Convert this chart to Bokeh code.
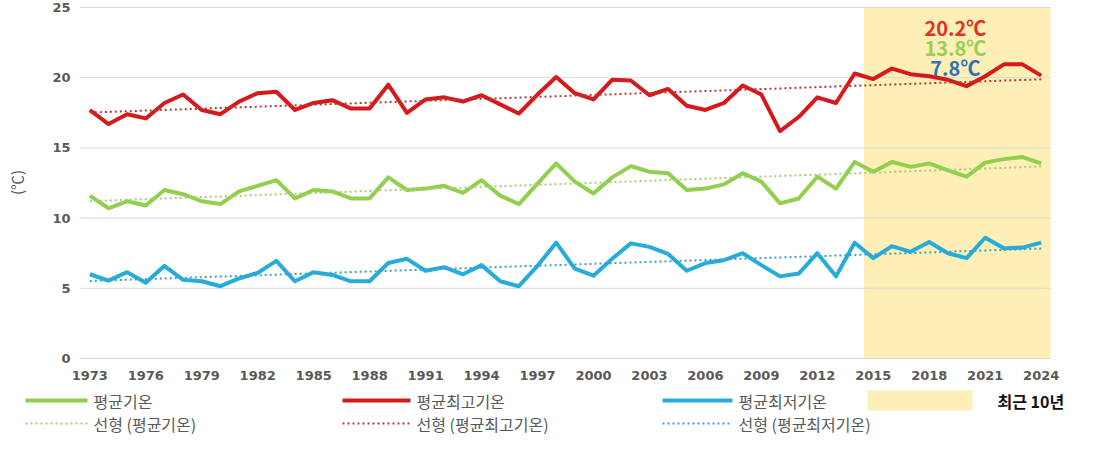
import numpy as np
from bokeh.plotting import figure
from bokeh.core.properties import value
from bokeh.embed import file_html
from bokeh.resources import INLINE

# ---------------- data ----------------
years = list(range(1973, 2025))
avg_temp = [11.6, 10.7, 11.2, 10.9, 12.0, 11.7, 11.2, 11.0, 11.9, 12.3,
            12.7, 11.4, 12.0, 11.9, 11.4, 11.4, 12.9, 12.0, 12.1, 12.3,
            11.8, 12.7, 11.6, 11.0, 12.45, 13.9, 12.6, 11.75, 12.9, 13.7,
            13.3, 13.2, 12.0, 12.1, 12.4, 13.2, 12.6, 11.05, 11.4, 12.95,
            12.1, 14.0, 13.3, 14.0, 13.65, 13.9, 13.4, 12.95, 13.95, 14.2,
            14.35, 13.9]
max_temp = [17.7, 16.7, 17.4, 17.1, 18.2, 18.8, 17.7, 17.4, 18.3, 18.9,
            19.0, 17.7, 18.2, 18.4, 17.8, 17.8, 19.5, 17.5, 18.45, 18.6,
            18.3, 18.75, 18.1, 17.45, 18.8, 20.05, 18.9, 18.45, 19.85, 19.8,
            18.75, 19.2, 18.0, 17.7, 18.2, 19.45, 18.8, 16.2, 17.2, 18.6,
            18.2, 20.3, 19.9, 20.65, 20.25, 20.1, 19.85, 19.4, 20.1, 20.95,
            20.95, 20.15]
min_temp = [6.0, 5.55, 6.15, 5.4, 6.6, 5.6, 5.5, 5.15, 5.7, 6.1,
            6.95, 5.5, 6.15, 5.95, 5.5, 5.5, 6.8, 7.1, 6.25, 6.5,
            6.0, 6.65, 5.5, 5.15, 6.6, 8.25, 6.4, 5.9, 7.1, 8.2,
            7.95, 7.45, 6.25, 6.8, 7.0, 7.5, 6.65, 5.85, 6.05, 7.5,
            5.85, 8.25, 7.15, 8.0, 7.6, 8.3, 7.5, 7.15, 8.6, 7.85,
            7.9, 8.25]
recent_years = [2015, 2024]
y_ticks = [0, 5, 10, 15, 20, 25]
x_ticks = list(range(1973, 2025, 3))

series_names = ["평균기온", "평균최고기온", "평균최저기온"]
trend_names = ["선형 (평균기온)", "선형 (평균최고기온)", "선형 (평균최저기온)"]
recent_name = "최근 10년"
y_label = "(℃)"

# ---------------- styles ----------------
c_avg, c_max, c_min = "#92cf4f", "#d61a1c", "#27acd9"
c_avg_t, c_max_t, c_min_t = "#a3cf78", "#b33a3a", "#3d9fc9"
c_box = "#fdefb5"
txt_col = "#595959"
tick_font = "DejaVu Sans"
kr_font = "Noto Sans CJK KR"

# ---------------- layout geometry (canvas pixels) ----------------
W, H = 1100, 435
PL, PR, PT, PB = 80, 1050, 7, 358          # plot area inside the canvas
x_lo, x_hi = years[0] - 0.5, years[-1] + 0.5
y_lo, y_hi = y_ticks[0], y_ticks[-1]
kx = (x_hi - x_lo) / (PR - PL)
ky = (y_hi - y_lo) / (PB - PT)
x_range = (x_lo - PL * kx, x_hi + (W - PR) * kx)
y_range = (y_lo - (H - PB) * ky, y_hi + PT * ky)

def fx(px):
    return x_range[0] + px * kx

def fy(py):
    return y_range[1] - py * ky

p = figure(width=W, height=H, output_backend="svg", toolbar_location=None,
           x_range=x_range, y_range=y_range, min_border=0,
           x_axis_type=None, y_axis_type=None)
p.outline_line_color = None
p.background_fill_color = "white"
p.border_fill_color = "white"
p.grid.visible = False

# recent 10-year box
p.quad(left=[recent_years[0] - 0.5], right=[recent_years[1] + 0.5],
       bottom=[y_lo], top=[y_hi], fill_color=c_box, line_color=None)

# horizontal gridlines
p.segment(x0=[x_lo] * len(y_ticks), x1=[x_hi] * len(y_ticks), y0=y_ticks, y1=y_ticks,
          line_color="#d9d9d9", line_width=1)

yrs = np.array(years, dtype=float)

def trend(vals):
    k, b = np.polyfit(yrs, np.array(vals), 1)
    return k * yrs + b

main_style = dict(line_width=4, line_join="round")
trend_style = dict(line_width=2, line_dash="2 3")
p.line(years, avg_temp, line_color=c_avg, **main_style)
p.line(years, max_temp, line_color=c_max, **main_style)
p.line(years, min_temp, line_color=c_min, **main_style)
p.line(years, trend(avg_temp), line_color=c_avg_t, **trend_style)
p.line(years, trend(max_temp), line_color=c_max_t, **trend_style)
p.line(years, trend(min_temp), line_color=c_min_t, **trend_style)

# tick labels
tick_txt = dict(text_font=value(tick_font), text_font_size=value("13px"),
                text_font_style="bold", text_color=txt_col, text_baseline="middle")
p.text(x=[fx(PL - 10)] * len(y_ticks), y=y_ticks, text=[str(t) for t in y_ticks],
       text_align="right", **tick_txt)
p.text(x=x_ticks, y=[fy(PB + 17)] * len(x_ticks), text=[str(t) for t in x_ticks],
       text_align="center", **tick_txt)
p.text(x=[fx(16)], y=[fy(182)], text=[y_label], angle=np.pi / 2,
       text_align="center", text_baseline="middle", text_font=value(kr_font),
       text_font_size=value("15px"), text_color=txt_col)

# recent-decade mean labels
lab_x = 2019.4
lab_vals, lab_cols = [], []
for vals, col in ((max_temp, "#e4301e"), (avg_temp, "#9bcd55"), (min_temp, "#2e72b4")):
    recent = [v for yv, v in zip(years, vals) if recent_years[0] <= yv <= recent_years[1]]
    lab_vals.append(f"{np.mean(recent):.1f}℃")
    lab_cols.append(col)
p.text(x=[lab_x] * 3, y=[fy(27), fy(46.5), fy(67)], text=lab_vals, text_color=lab_cols,
       text_align="center", text_baseline="alphabetic", text_font=value(kr_font),
       text_font_style="bold", text_font_size=value("20px"))

# ---------------- legend (drawn in canvas-pixel positions) ----------------
row1, row2 = fy(400), fy(423)
sw_x0 = [fx(25), fx(342), fx(662)]
sw_x1 = [fx(87), fx(410), fx(732)]
p.segment(x0=sw_x0, x1=sw_x1, y0=[row1] * 3, y1=[row1] * 3,
          line_color=[c_avg, c_max, c_min], line_width=4)
p.segment(x0=sw_x0, x1=sw_x1, y0=[row2] * 3, y1=[row2] * 3,
          line_color=[c_avg_t, c_max_t, c_min_t], line_width=2, line_dash="2 3")
txt_x = [x + 6 * kx for x in sw_x1]
leg_txt = dict(text_font=value(kr_font), text_font_size=value("16px"),
               text_color=txt_col, text_baseline="middle")
p.text(x=txt_x, y=[row1] * 3, text=series_names, **leg_txt)
p.text(x=txt_x, y=[row2] * 3, text=trend_names, **leg_txt)
p.quad(left=[fx(867)], right=[fx(972)], bottom=[fy(410)], top=[fy(390)],
       fill_color=c_box, line_color=None)
p.text(x=[fx(997)], y=[row1], text=[recent_name], text_font=value(kr_font),
       text_font_size=value("16px"), text_font_style="bold", text_color="#111111",
       text_baseline="middle")

open("out.html", "w").write(file_html(p, INLINE))
